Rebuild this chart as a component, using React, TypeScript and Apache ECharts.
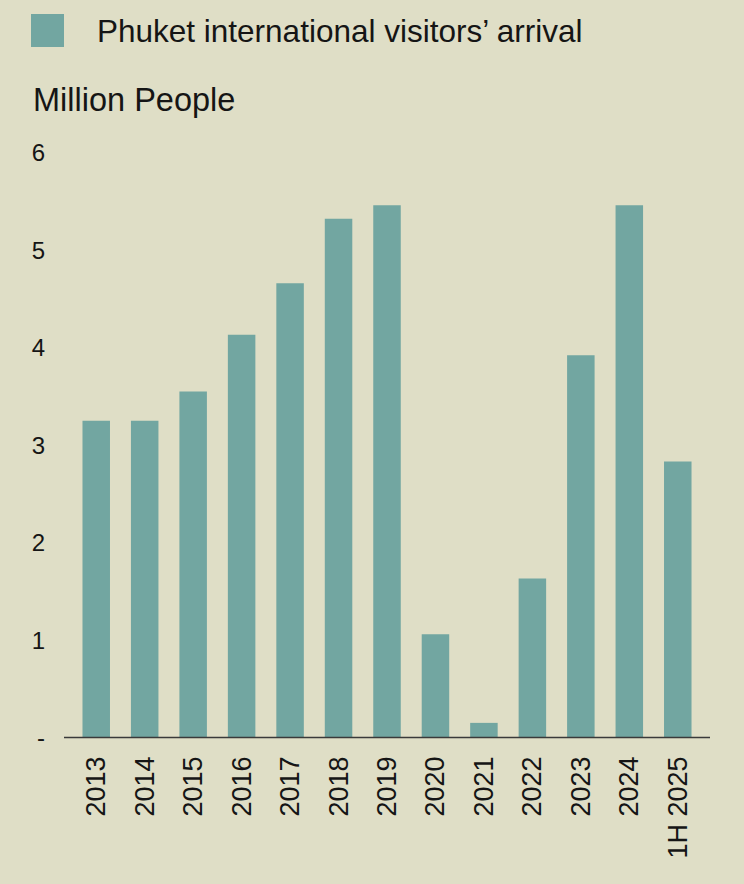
import React, { useEffect, useRef } from "react";
import * as echarts from "echarts";

// Phuket international visitor arrivals, million people
const years = ["2013", "2014", "2015", "2016", "2017", "2018", "2019", "2020", "2021", "2022", "2023", "2024", "1H 2025"];
const arrivals = [3.25, 3.25, 3.55, 4.13, 4.66, 5.32, 5.46, 1.06, 0.15, 1.63, 3.92, 5.46, 2.83];
const yTicks = [0, 1, 2, 3, 4, 5, 6];

const seriesName = "Phuket international visitors’ arrival";
const BG = "#dfdec6";
const BAR = "#72a6a1";
const INK = "#151515";
const FONT = "'Liberation Sans', Arial, sans-serif";

export default function App() {
  const ref = useRef<HTMLDivElement>(null);

  useEffect(() => {
    if (!ref.current) return;
    const chart = echarts.init(ref.current, undefined, { renderer: "svg" });
    const gridTop = 152.5;
    const gridBottom = 146.5;
    chart.setOption({
      animation: false,
      backgroundColor: BG,
      textStyle: { fontFamily: FONT, color: INK },
      title: {
        text: "Million People",
        left: 28,
        top: 78,
        textStyle: { fontFamily: FONT, fontSize: 32.5, fontWeight: "normal", color: INK },
      },
      legend: {
        left: 31,
        top: 14,
        padding: 0,
        itemWidth: 33,
        itemHeight: 33,
        icon: "rect",
        data: [seriesName],
        textStyle: {
          fontFamily: FONT,
          fontSize: 31.5,
          color: INK,
          padding: [0, 0, 0, 28],
        },
      },
      grid: { left: 72, right: 42, top: gridTop, bottom: gridBottom, containLabel: false },
      xAxis: {
        type: "category",
        data: years,
        axisLine: { show: false },
        axisTick: { show: false },
        axisLabel: {
          rotate: 90,
          margin: 19,
          fontSize: 27,
          color: INK,
          fontFamily: FONT,
          interval: 0,
        },
      },
      yAxis: {
        type: "value",
        min: yTicks[0],
        max: yTicks[yTicks.length - 1],
        interval: 1,
        axisLine: { show: false },
        axisTick: { show: false },
        splitLine: { show: false },
        axisLabel: {
          margin: 27,
          fontSize: 24,
          color: INK,
          fontFamily: FONT,
          formatter: (v: number) => (v === 0 ? "-" : String(v)),
        },
      },
      graphic: [
        {
          type: "line",
          shape: { x1: 64, y1: 884 - gridBottom, x2: 710, y2: 884 - gridBottom },
          style: { stroke: "#3a3a3a", lineWidth: 1.5 },
          z: 10,
        },
      ],
      series: [
        {
          name: seriesName,
          type: "bar",
          data: arrivals,
          barWidth: 27.5,
          itemStyle: { color: BAR },
        },
      ],
    });
    return () => chart.dispose();
  }, []);

  return (
    <div
      ref={ref}
      style={{ position: "fixed", left: 0, top: 0, width: 744, height: 884 }}
    />
  );
}
